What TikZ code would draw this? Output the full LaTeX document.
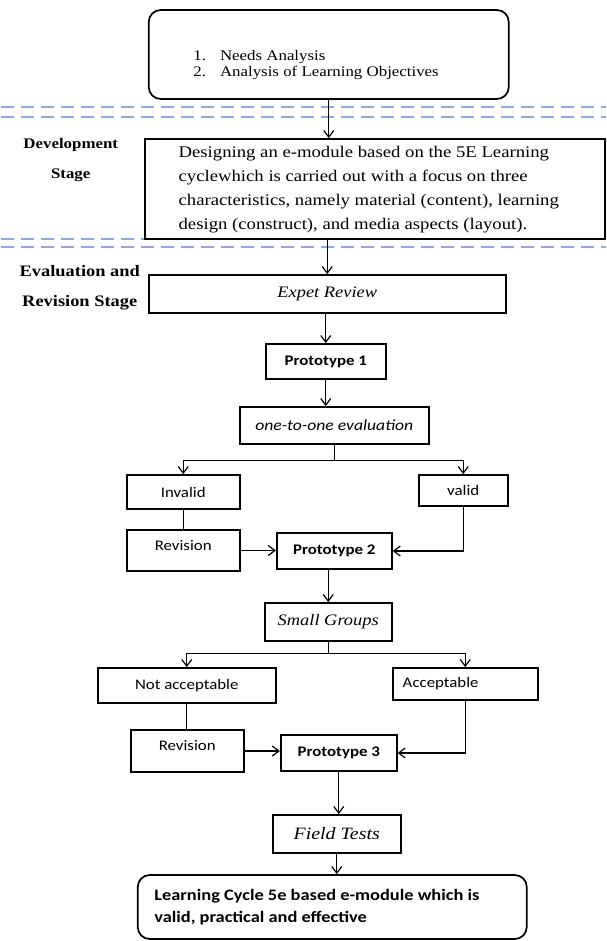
\documentclass[tikz,border=0pt]{standalone}
\usepackage{fontspec}
\setmainfont{Liberation Serif}[FakeStretch=1.15]
\setsansfont{Carlito}[FakeStretch=1.15]
\usetikzlibrary{arrows.meta}
\definecolor{stageblue}{RGB}{143,170,220}

\begin{document}
\begin{tikzpicture}[
        x=0.75pt, y=-0.75pt,
        block/.style={
            draw,
            line width=1.3pt,
            fill=white,
            inner sep=0pt,
            align=center
        },
        proto/.style={block, font=\fontsize{11}{13}\selectfont\sffamily\bfseries},
        choice/.style={block, font=\fontsize{11}{13}\selectfont\sffamily},
        revision/.style={choice, text depth=8pt},
        review/.style={block, font=\fontsize{12}{14}\selectfont\itshape},
        stage/.style={align=center},
        separator/.style={stageblue, line width=1.1pt, dash pattern=on 10pt off 5pt},
        flow/.style={-{Straight Barb[length=5pt,width=7.5pt]}, line width=0.9pt},
        link/.style={line width=0.9pt}
    ]

    \fill[white] (0,0) rectangle (605,941);

    % stage separators
    \foreach \ypos in {107,117,239,247}
        \draw[separator] (0,\ypos) -- (605,\ypos);

    \node[block, rounded corners=9pt, minimum width=270pt, minimum height=66.75pt,
          font=\fontsize{11}{12}\selectfont] (needs) at (328,54.5)
        {\begin{tabular}{@{}l@{\hspace{10.5pt}}l@{\hspace{19pt}}}
            \rule{0pt}{24pt}1. & Needs Analysis\\
            2. & Analysis of Learning Objectives
        \end{tabular}};

    \node[stage, font=\fontsize{11}{22.5}\selectfont\bfseries] (devstage) at (70,160)
        {Development\\Stage};

    \node[block, minimum width=345pt, minimum height=75pt,
          font=\fontsize{12.2}{18}\selectfont] (design) at (374,189)
        {\begin{tabular}{@{}l@{\hspace{9pt}}}
            Designing an e-module based on the 5E Learning\\
            cyclewhich is carried out with a focus on three\\
            characteristics, namely material (content), learning\\
            design (construct), and media aspects (layout).
        \end{tabular}};

    \node[stage, font=\fontsize{12}{22.5}\selectfont\bfseries] (evalstage) at (79,288)
        {Evaluation and\\Revision Stage};

    \node[review, minimum width=267.75pt, minimum height=28.5pt] (expert) at (326.5,294) {Expet Review};
    \node[proto, minimum width=90pt, minimum height=26.25pt] (proto1) at (325,361.5) {Prototype 1};
    \node[block, minimum width=141.75pt, minimum height=27.75pt,
          font=\fontsize{11.5}{13}\selectfont\sffamily\itshape] (onetoone) at (333.5,425.5) {one-to-one evaluation};

    \node[choice, minimum width=84.75pt, minimum height=25.5pt] (invalid) at (182.5,492) {Invalid};
    \node[choice, minimum width=66.75pt, minimum height=23.25pt] (valid) at (462.5,490.5) {valid};
    \node[revision, minimum width=84.75pt, minimum height=30.75pt] (revision1) at (182.5,550.5) {Revision};
    \node[proto, minimum width=86.25pt, minimum height=27pt] (proto2) at (333.5,551) {Prototype 2};

    \node[review, minimum width=95.25pt, minimum height=28.5pt] (small) at (327.5,622) {Small Groups};

    \node[choice, minimum width=133.5pt, minimum height=26.25pt] (notacc) at (186,685.5) {Not acceptable};
    \node[choice, text width=93.75pt, inner xsep=7.5pt, align=left, minimum height=24pt] (acc) at (464.5,684) {Acceptable};
    \node[revision, minimum width=84.75pt, minimum height=31.5pt] (revision2) at (186.5,751) {Revision};
    \node[proto, minimum width=87pt, minimum height=27pt] (proto3) at (338,753) {Prototype 3};

    \node[review, minimum width=96pt, minimum height=28.5pt,
          font=\fontsize{13}{15}\selectfont\itshape] (field) at (336,834) {Field Tests};

    \node[block, rounded corners=9pt, minimum width=291.75pt, minimum height=48pt,
          font=\fontsize{12}{16.5}\selectfont\sffamily\bfseries] (result) at (331.5,907)
        {\begin{tabular}{@{}l@{\hspace{23pt}}}
            Learning Cycle 5e based e-module which is\\
            valid, practical and effective
        \end{tabular}};

    \draw[flow] (needs.south) -- (needs.south |- design.north);
    \draw[flow] (expert.north |- design.south) -- (expert.north);
    \draw[flow] (expert.south -| proto1.north) -- (proto1.north);
    \draw[flow] (proto1.south) -- (proto1.south |- onetoone.north);
    \draw[flow] (onetoone.south) -- ++(0,16) -| (invalid.north);
    \draw[flow] (onetoone.south) -- ++(0,16) -| (valid.north);
    \draw[link] (invalid.south) -- (revision1.north);
    \draw[flow] (revision1.east) -- (revision1.east -| proto2.west);
    \draw[flow] (valid.south) |- (proto2.east);
    \draw[flow] (small.north |- proto2.south) -- (small.north);
    \draw[flow] (small.south) -- ++(0,12) -| (notacc.north);
    \draw[flow] (small.south) -- ++(0,12) -| (acc.north);
    \draw[link] (notacc.south) -- (notacc.south |- revision2.north);
    \draw[flow] (revision2.east) -- (revision2.east -| proto3.west);
    \draw[flow] (acc.south) |- (proto3.east);
    \draw[flow] (proto3.south) -- (proto3.south |- field.north);
    \draw[flow] (field.south) -- (field.south |- result.north);

\end{tikzpicture}
\end{document}
